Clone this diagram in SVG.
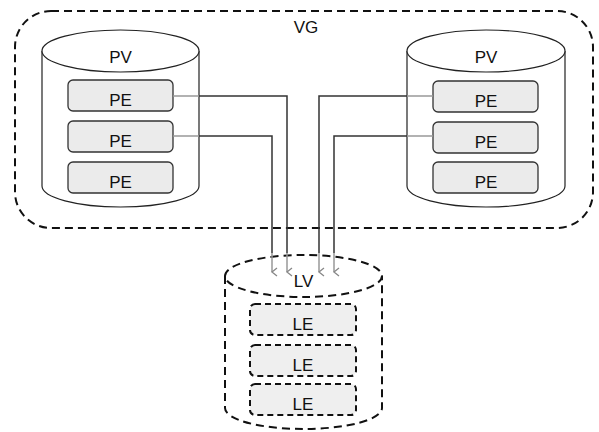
<svg xmlns="http://www.w3.org/2000/svg" width="599" height="432" viewBox="0 0 599 432">
<defs>
<style>
text{font-family:"Liberation Sans",Arial,sans-serif;font-size:17px;fill:#111;text-anchor:middle}
.cyl{fill:#fff;stroke:#222;stroke-width:1.2}
.pe{fill:#ebebeb;stroke:#333;stroke-width:1.3}
.dash{fill:none;stroke:#111;stroke-width:2;stroke-dasharray:8 5}
.le{fill:#efefef;stroke:#111;stroke-width:2;stroke-dasharray:6 4}
.conn{fill:none;stroke:#333;stroke-width:1.5}
.conn2{fill:none;stroke:#999;stroke-width:1.5}
</style>
<marker id="ah" markerWidth="10" markerHeight="10" refX="5" refY="8" orient="auto" markerUnits="userSpaceOnUse" viewBox="0 0 10 10">
<path d="M1,3 L5,8 L9,3" fill="none" stroke="#888" stroke-width="1.3"/>
</marker>
</defs>
<g id="VG">
<rect x="15" y="11" width="578" height="217" rx="36" ry="36" class="dash"/>
<text x="306" y="33">VG</text>
</g>
<g id="PV1">
<path class="cyl" d="M42,51 L42,186 A78.5,21 0 0 0 199,186 L199,51"/>
<ellipse class="cyl" cx="120.5" cy="51" rx="78.5" ry="21"/>
<text x="120.5" y="63">PV</text>
</g>
<g id="PE1a"><rect class="pe" x="68" y="80" width="105" height="31" rx="5"/><text x="120.5" y="106">PE</text></g>
<g id="PE1b"><rect class="pe" x="68" y="121" width="105" height="31" rx="5"/><text x="120.5" y="147">PE</text></g>
<g id="PE1c"><rect class="pe" x="68" y="162" width="105" height="31" rx="5"/><text x="120.5" y="188">PE</text></g>
<g id="PV2">
<path class="cyl" d="M407,51 L407,186 A79,21 0 0 0 565,186 L565,51"/>
<ellipse class="cyl" cx="486" cy="51" rx="79" ry="21"/>
<text x="486" y="63">PV</text>
</g>
<g id="PE2a"><rect class="pe" x="433" y="81" width="105" height="31" rx="5"/><text x="486" y="107">PE</text></g>
<g id="PE2b"><rect class="pe" x="433" y="122" width="105" height="31" rx="5"/><text x="486" y="148">PE</text></g>
<g id="PE2c"><rect class="pe" x="433" y="162" width="105" height="31" rx="5"/><text x="486" y="188">PE</text></g>
<g id="LV">
<path class="dash" d="M225,276 L225,408 A78.5,21 0 0 0 382,408 L382,276"/>
<ellipse class="dash" cx="303.5" cy="276" rx="78.5" ry="21" fill="#fff"/>
<text x="303.5" y="287">LV</text>
</g>
<g id="LE1"><rect class="le" x="250" y="304" width="106" height="31" rx="5"/><text x="303" y="330">LE</text></g>
<g id="LE2"><rect class="le" x="250" y="345" width="106" height="31" rx="5"/><text x="303" y="371">LE</text></g>
<g id="LE3"><rect class="le" x="250" y="384" width="106" height="31" rx="5"/><text x="303" y="410">LE</text></g>
<g id="connectors">
<path class="conn2" d="M173,96 L199,96"/>
<path class="conn" d="M199,96 L287,96 L287,253"/>
<path class="conn2" d="M287,253 L287,272" marker-end="url(#ah)"/>
<path class="conn2" d="M173,136 L199,136"/>
<path class="conn" d="M199,136 L272,136 L272,253"/>
<path class="conn2" d="M272,253 L272,272" marker-end="url(#ah)"/>
<path class="conn2" d="M433,96 L407,96"/>
<path class="conn" d="M407,96 L319,96 L319,253"/>
<path class="conn2" d="M319,253 L319,272" marker-end="url(#ah)"/>
<path class="conn2" d="M433,136 L407,136"/>
<path class="conn" d="M407,136 L334,136 L334,253"/>
<path class="conn2" d="M334,253 L334,272" marker-end="url(#ah)"/>
</g>
</svg>
